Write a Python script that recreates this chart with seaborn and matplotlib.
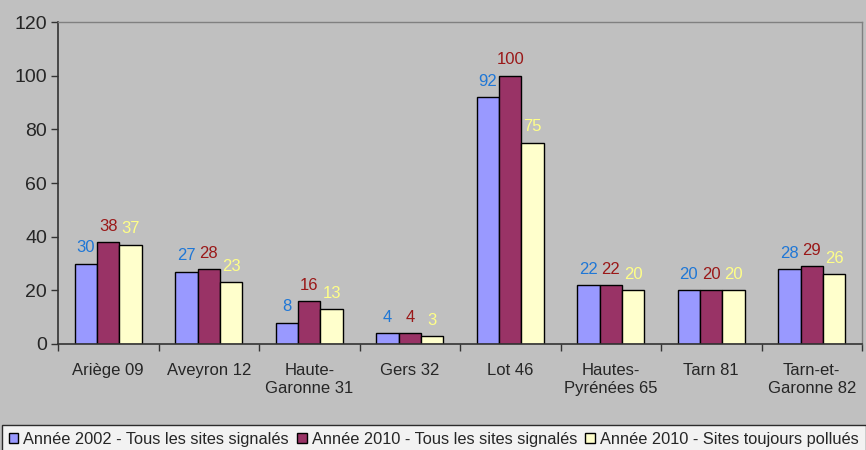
#!/usr/bin/env python
# encoding: utf-8

import pandas as pd
import matplotlib
matplotlib.use('Agg')
import matplotlib.pyplot as plt
import seaborn as sns

# chart data
departements = ['Ariège 09', 'Aveyron 12', 'Haute-\nGaronne 31', 'Gers 32',
                'Lot 46', 'Hautes-\nPyrénées 65', 'Tarn 81', 'Tarn-et-\nGaronne 82']
series_names = ['Année 2002 - Tous les sites signalés',
                'Année 2010 - Tous les sites signalés',
                'Année 2010 - Sites toujours pollués']
sites_2002 = [30, 27, 8, 4, 92, 22, 20, 28]
sites_2010 = [38, 28, 16, 4, 100, 22, 20, 29]
pollues_2010 = [37, 23, 13, 3, 75, 20, 20, 26]

bar_colors = ['#9999FF', '#993366', '#FFFFCC']
label_colors = ['#1F77D6', '#9A1818', '#FFFF88']


def build_df():
    """
    Long format table for seaborn
    """
    rows = []
    for name, vals in zip(series_names, [sites_2002, sites_2010, pollues_2010]):
        for dep, v in zip(departements, vals):
            rows.append({'dep': dep, 'serie': name, 'val': v})
    return pd.DataFrame(rows)


def main():
    df = build_df()

    sns.set_style('white')
    plt.rcParams['font.family'] = ['Liberation Sans', 'DejaVu Sans']

    fig = plt.figure(figsize=(8.66, 4.5), dpi=100)
    fig.patch.set_facecolor('#C0C0C0')
    ax = fig.add_axes([58 / 866, 1 - 344 / 450, (862 - 58) / 866, (344 - 22) / 450])
    ax.set_facecolor('#C0C0C0')

    sns.barplot(data=df, x='dep', y='val', hue='serie', palette=bar_colors,
                saturation=1, edgecolor='black', linewidth=1, width=0.67,
                ax=ax, legend=True)

    # value labels above bars
    for cont, col in zip(ax.containers, label_colors):
        ax.bar_label(cont, color=col, fontsize=12, padding=6)

    ax.set_ylim(0, 120)
    ax.set_yticks(range(0, 121, 20))
    ax.set_xlim(-0.5, len(departements) - 0.5)
    ax.set_xlabel('')
    ax.set_ylabel('')
    ax.tick_params(axis='y', labelsize=14, length=5, width=1, color='#333333',
                   left=True, pad=3)
    # x ticks between categories, labels in the middle
    ax.set_xticks([i + 0.5 for i in range(-1, len(departements))], minor=False)
    ax.set_xticklabels([''] * (len(departements) + 1))
    ax.set_xticks(range(len(departements)), minor=True)
    ax.set_xticklabels(departements, minor=True, fontsize=12)
    ax.tick_params(axis='x', which='major', length=5, width=1, color='#333333', bottom=True)
    ax.tick_params(axis='x', which='minor', length=0, pad=14)

    for side in ['left', 'bottom']:
        ax.spines[side].set_color('#333333')
        ax.spines[side].set_linewidth(1.2)
    for side in ['top', 'right']:
        ax.spines[side].set_color('#808080')
        ax.spines[side].set_linewidth(1)

    handles, labels = ax.get_legend_handles_labels()
    ax.get_legend().remove()
    leg = fig.legend(handles, labels, loc='upper left',
                     bbox_to_anchor=(2 / 866, 1 - 425 / 450), ncol=3,
                     fontsize=11.8, frameon=True, fancybox=False,
                     borderaxespad=0, handlelength=0.6, handleheight=0.6,
                     handletextpad=0.3, columnspacing=0.5, borderpad=0.4)
    leg.get_frame().set_edgecolor('black')
    leg.get_frame().set_facecolor('white')
    leg.get_frame().set_linewidth(1)

    fig.savefig('out.png', dpi=100, facecolor=fig.get_facecolor())


if __name__ == '__main__':
    main()
